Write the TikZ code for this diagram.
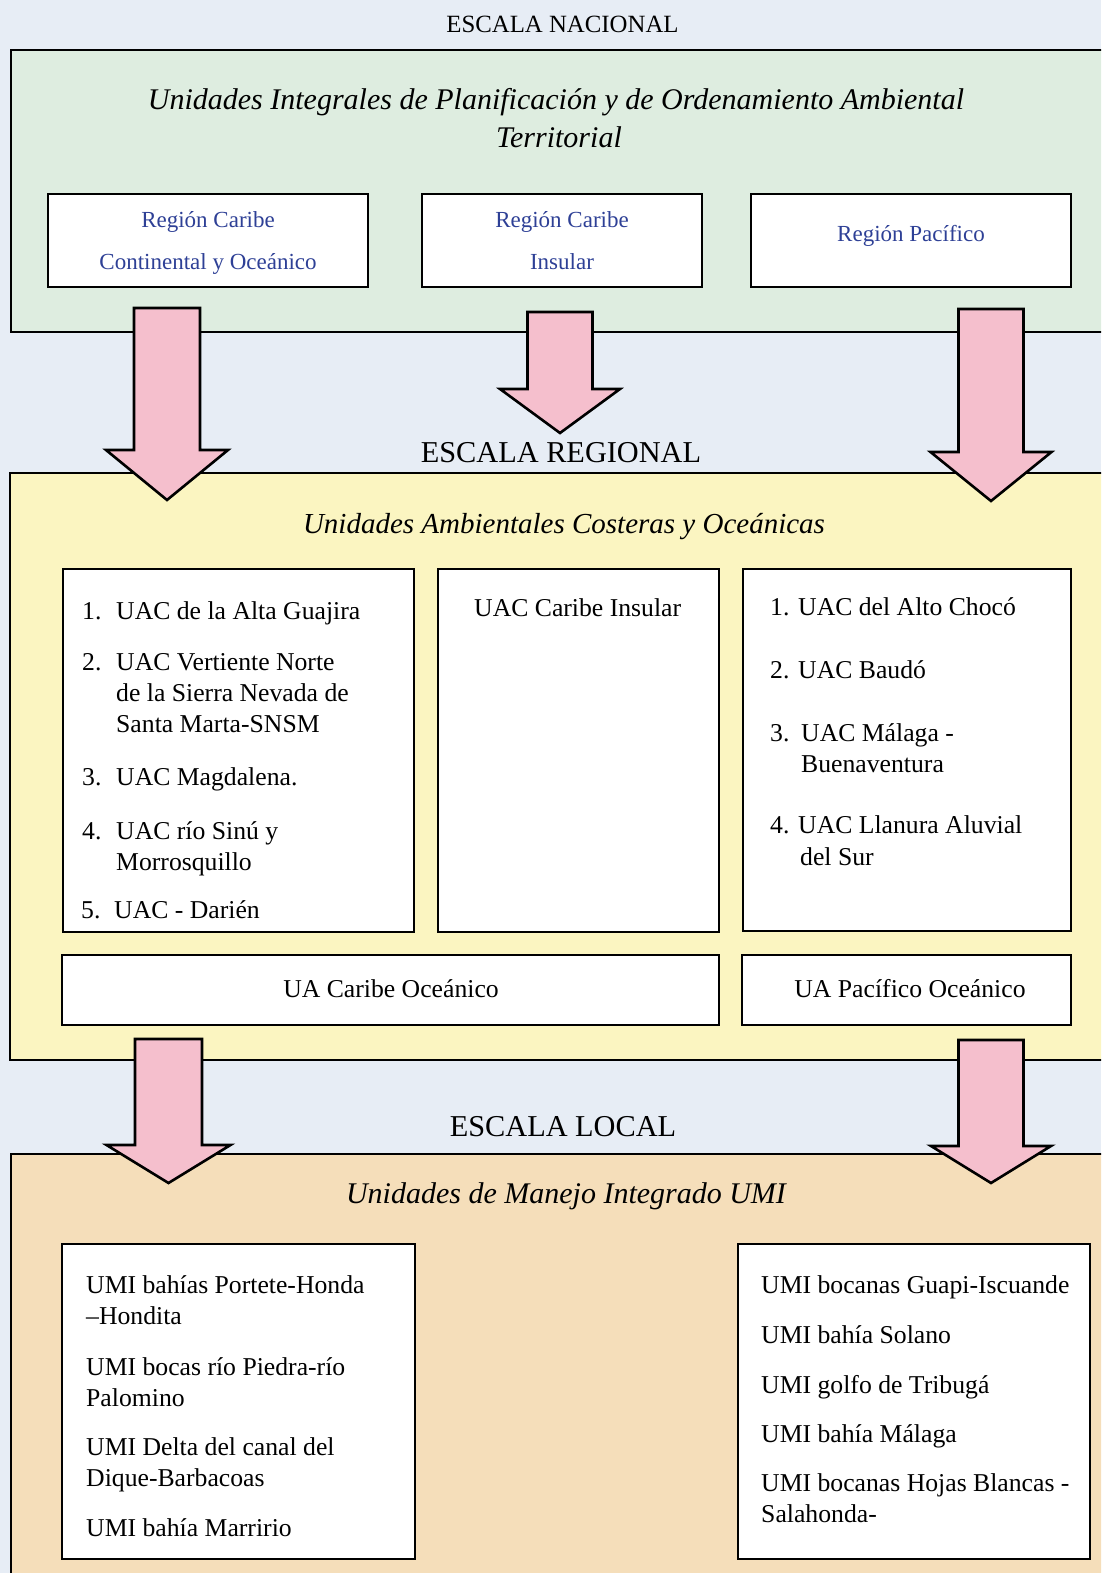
\documentclass[tikz,border=0pt]{standalone}
\usepackage{fontspec}
\setmainfont{Liberation Serif}

\definecolor{pagebg}{HTML}{E7EDF5}
\definecolor{natfill}{HTML}{DEEDE0}
\definecolor{regfill}{HTML}{FBF5C1}
\definecolor{locfill}{HTML}{F5DEBA}
\definecolor{arrowfill}{HTML}{F5BFCD}
\definecolor{regionblue}{HTML}{2E4096}

\tikzset{
  panel/.style={draw=black, line width=2.6pt, anchor=north west, inner sep=0pt, outer sep=0pt},
  whitebox/.style={draw=black, fill=white, line width=1.8pt, anchor=north west, inner sep=0pt, outer sep=0pt},
  scalelabel/.style={anchor=base, inner sep=0pt, font=\fontsize{30.3}{35}\selectfont},
  paneltitle/.style={anchor=base, inner sep=0pt, font=\fontsize{29.5}{34}\selectfont\itshape},
  regiontext/.style={anchor=base, inner sep=0pt, text=regionblue, font=\fontsize{23}{27}\selectfont},
  bodytext/.style={anchor=base west, inner sep=0pt, font=\fontsize{25.7}{30}\selectfont},
  bodycentre/.style={anchor=base, inner sep=0pt, font=\fontsize{25.7}{30}\selectfont},
  blockarrow/.style={draw=black, fill=arrowfill, line width=2.6pt, line join=miter},
}

% downward block arrow: centre x, shaft top, shaft half width, head base, head half width, tip
\newcommand\downblock[6]{%
  \draw[blockarrow] (#1-#3,#2) -- (#1+#3,#2) -- (#1+#3,#4) -- (#1+#5,#4)
    -- (#1,#6) -- (#1-#5,#4) -- (#1-#3,#4) -- cycle;}

\begin{document}
\begin{tikzpicture}[x=1pt, y=-1pt]
\useasboundingbox (0,0) rectangle (1101,1573);
\clip (0,0) rectangle (1101,1573);
\fill[pagebg] (0,0) rectangle (1101,1573);

% ---------- national scale ----------
\node[scalelabel, font=\fontsize{24.8}{29}\selectfont] (natlabel) at (562.5,33) {ESCALA NACIONAL};
\node[panel, fill=natfill, minimum width=1110pt, minimum height=282pt] (natpanel) at (11,50) {};
\node[paneltitle, font=\fontsize{30}{35}\selectfont\itshape] (nattitleA) at (556,110)
  {Unidades Integrales de Planificación y de Ordenamiento Ambiental};
\node[paneltitle, font=\fontsize{30}{35}\selectfont\itshape] (nattitleB) at (559,148) {Territorial};

\node[whitebox, minimum width=320pt, minimum height=93pt] (regA) at (48,194) {};
\node[whitebox, minimum width=280pt, minimum height=93pt] (regB) at (422,194) {};
\node[whitebox, minimum width=320pt, minimum height=93pt] (regC) at (751,194) {};
\node[regiontext] (regAa) at (208,227) {Región Caribe};
\node[regiontext] (regAb) at (208,269) {Continental y Oceánico};
\node[regiontext] (regBa) at (562,227) {Región Caribe};
\node[regiontext] (regBb) at (562,269) {Insular};
\node[regiontext] (regCa) at (911,241) {Región Pacífico};

% ---------- regional scale ----------
\node[scalelabel] (reglabel) at (561,462) {ESCALA REGIONAL};
\node[panel, fill=regfill, minimum width=1110pt, minimum height=587pt] (regpanel) at (10,473) {};
\node[paneltitle, font=\fontsize{29}{34}\selectfont\itshape] (regtitle) at (564,533)
  {Unidades Ambientales Costeras y Oceánicas};

\node[whitebox, minimum width=351pt, minimum height=363pt] (uacL) at (63,569) {};
\node[whitebox, minimum width=281pt, minimum height=363pt] (uacM) at (438,569) {};
\node[whitebox, minimum width=328pt, minimum height=362pt] (uacR) at (743,569) {};
\node[whitebox, minimum width=657pt, minimum height=70pt] (uaCar) at (62,955) {};
\node[whitebox, minimum width=329pt, minimum height=70pt] (uaPac) at (742,955) {};

% Caribbean continental list
\node[bodytext] (lnA) at (82,619) {1.};
\node[bodytext] (ltA) at (116,619) {UAC de la Alta Guajira};
\node[bodytext] (lnB) at (82,670) {2.};
\node[bodytext] (ltB1) at (116,670) {UAC Vertiente Norte};
\node[bodytext] (ltB2) at (116,701) {de la Sierra Nevada de};
\node[bodytext] (ltB3) at (116,732) {Santa Marta-SNSM};
\node[bodytext] (lnC) at (82,785) {3.};
\node[bodytext] (ltC) at (116,785) {UAC Magdalena.};
\node[bodytext] (lnD) at (82,839) {4.};
\node[bodytext] (ltD1) at (116,839) {UAC río Sinú y};
\node[bodytext] (ltD2) at (116,870) {Morrosquillo};
\node[bodytext] (lnE) at (81,918) {5.};
\node[bodytext] (ltE) at (114,918) {UAC - Darién};

% insular
\node[bodytext] (mtA) at (474,616) {UAC Caribe Insular};

% Pacific list
\node[bodytext] (rnA) at (770,615) {1.};
\node[bodytext] (rtA) at (798,615) {UAC del Alto Chocó};
\node[bodytext] (rnB) at (770,678) {2.};
\node[bodytext] (rtB) at (798,678) {UAC Baudó};
\node[bodytext] (rnC) at (770,741) {3.};
\node[bodytext] (rtC1) at (801,741) {UAC Málaga -};
\node[bodytext] (rtC2) at (801,772) {Buenaventura};
\node[bodytext] (rnD) at (770,833) {4.};
\node[bodytext] (rtD1) at (798,833) {UAC Llanura Aluvial};
\node[bodytext] (rtD2) at (800,865) {del Sur};

\node[bodycentre] (uaCarText) at (391,997) {UA Caribe Oceánico};
\node[bodycentre] (uaPacText) at (910,997) {UA Pacífico Oceánico};

% ---------- local scale ----------
\node[scalelabel] (loclabel) at (563,1136) {ESCALA LOCAL};
\node[panel, fill=locfill, minimum width=1110pt, minimum height=440pt] (locpanel) at (11,1154) {};
\node[paneltitle, font=\fontsize{30}{35}\selectfont\itshape] (loctitle) at (566,1203)
  {Unidades de Manejo Integrado UMI};

\node[whitebox, minimum width=353pt, minimum height=315pt] (umiL) at (62,1244) {};
\node[whitebox, minimum width=352pt, minimum height=315pt] (umiR) at (738,1244) {};

\node[bodytext] (ulA1) at (86,1293) {UMI bahías Portete-Honda};
\node[bodytext] (ulA2) at (86,1324) {–Hondita};
\node[bodytext] (ulB1) at (86,1375) {UMI bocas río Piedra-río};
\node[bodytext] (ulB2) at (86,1406) {Palomino};
\node[bodytext] (ulC1) at (86,1455) {UMI Delta del canal del};
\node[bodytext] (ulC2) at (86,1486) {Dique-Barbacoas};
\node[bodytext] (ulD) at (86,1536) {UMI bahía Marririo};

\node[bodytext] (urA) at (761,1293) {UMI bocanas Guapi-Iscuande};
\node[bodytext] (urB) at (761,1343) {UMI bahía Solano};
\node[bodytext] (urC) at (761,1393) {UMI golfo de Tribugá};
\node[bodytext] (urD) at (761,1442) {UMI bahía Málaga};
\node[bodytext] (urE1) at (761,1491) {UMI bocanas Hojas Blancas -};
\node[bodytext] (urE2) at (761,1522) {Salahonda-};

% ---------- block arrows between scales ----------
\downblock{167}{308}{33}{450}{61}{500}
\downblock{560}{312}{32.5}{389}{60}{433}
\downblock{991}{309}{32.5}{452}{60.5}{501}
\downblock{168.5}{1039}{33.5}{1145}{62}{1183}
\downblock{991}{1040}{32.5}{1146}{60}{1183}
\end{tikzpicture}
\end{document}
